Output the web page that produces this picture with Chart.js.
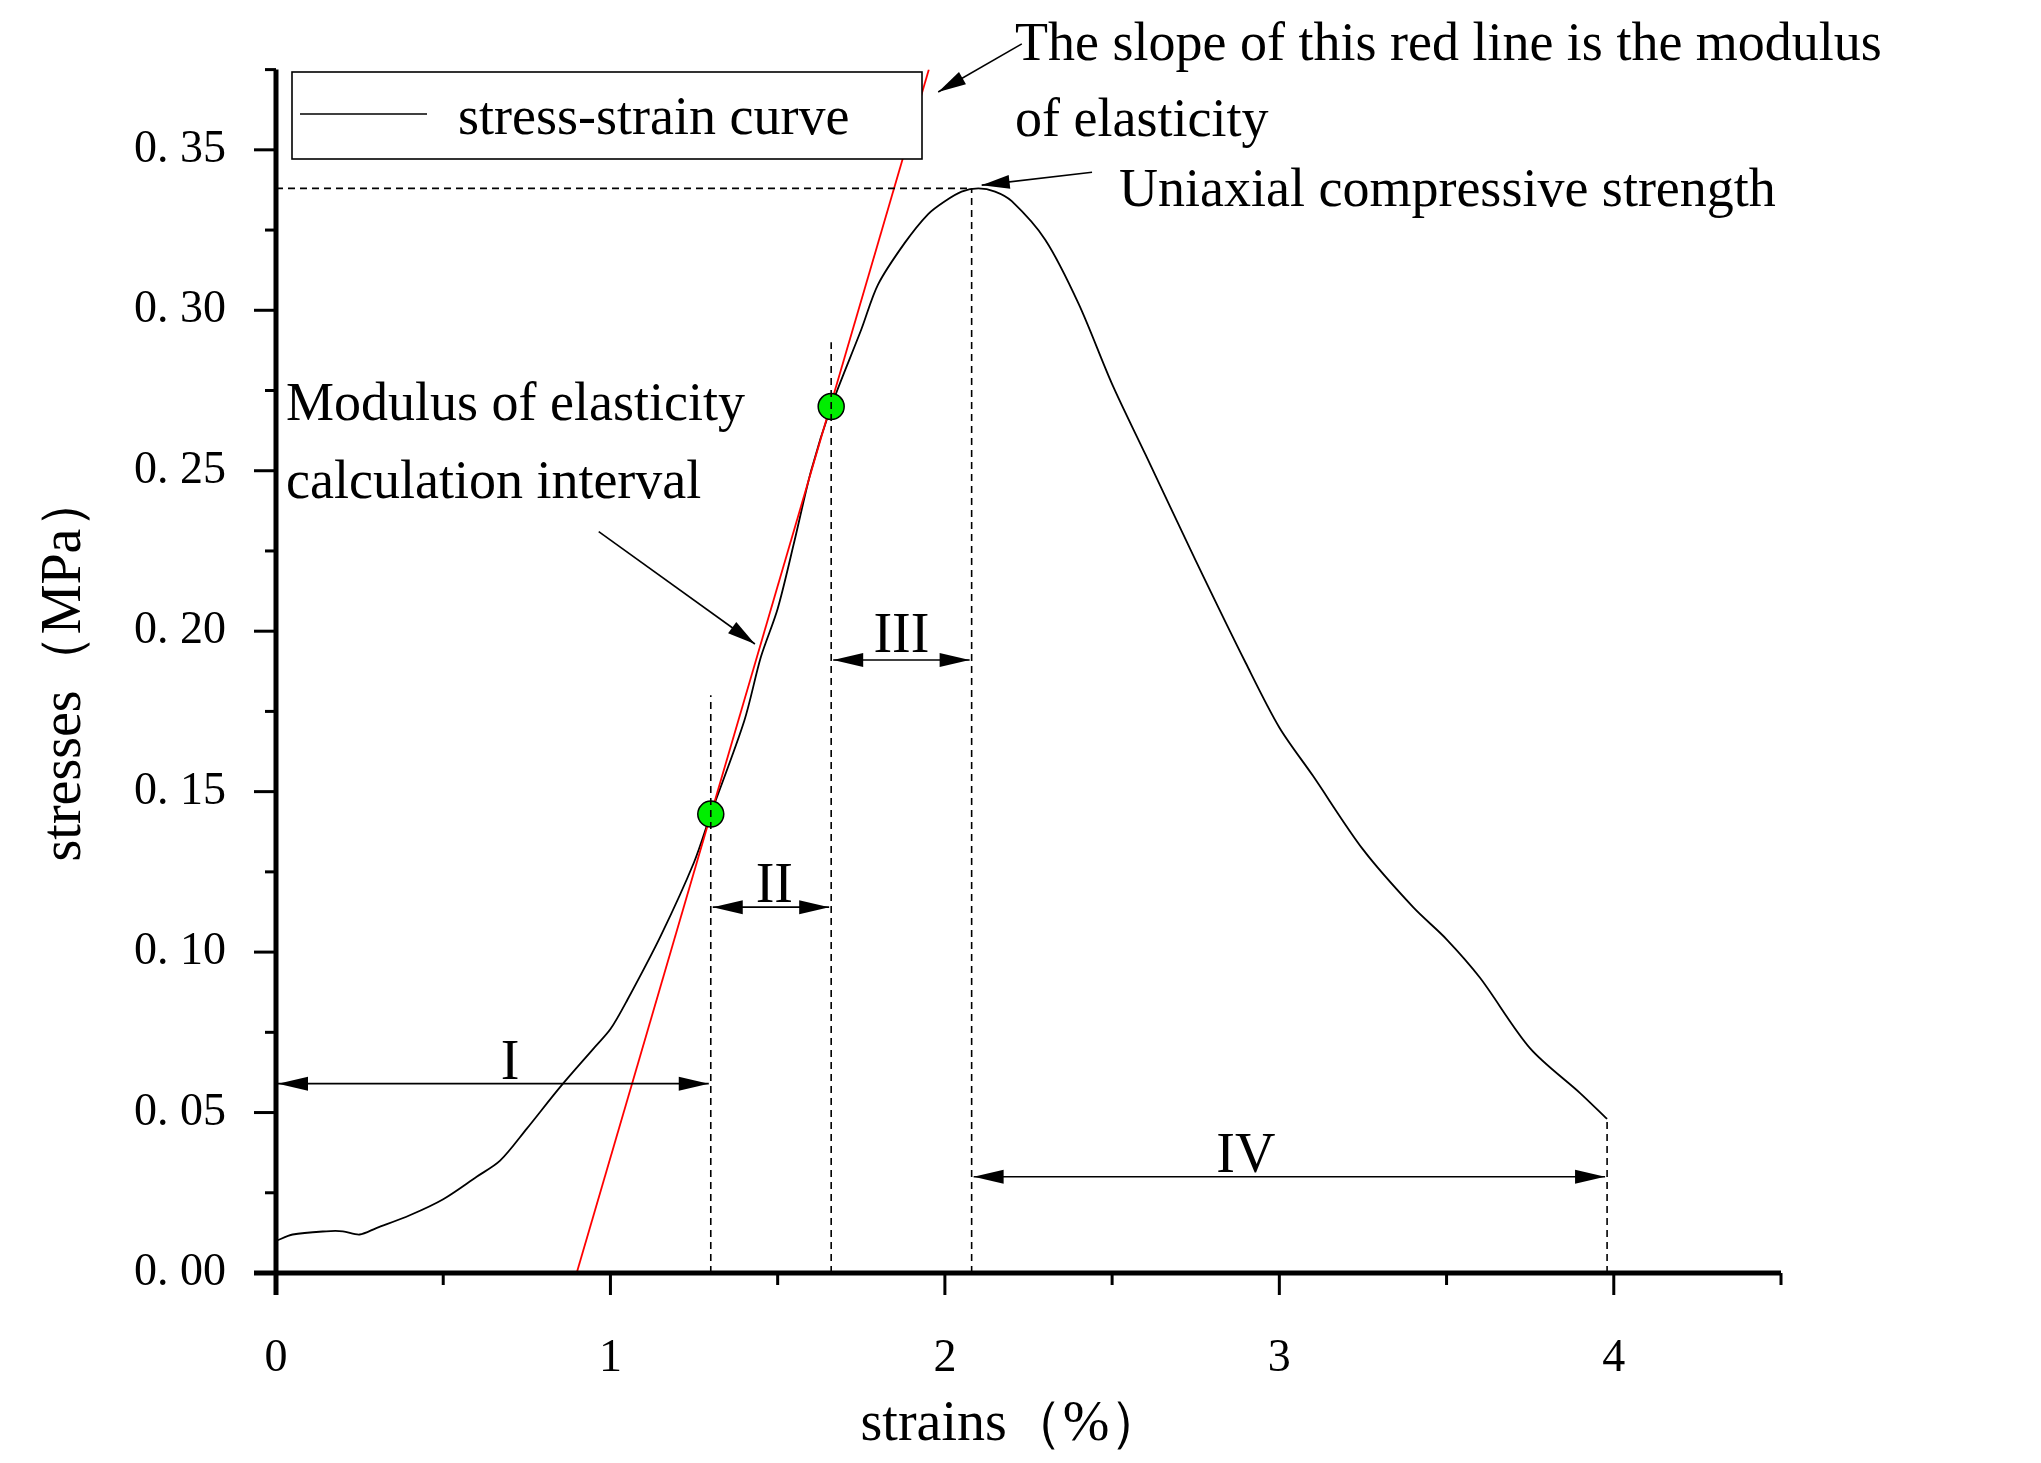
<!DOCTYPE html>
<html><head><meta charset="utf-8">
<script src="https://cdn.jsdelivr.net/npm/chart.js@4"></script>
<style>html,body{margin:0;background:#fff}#c{display:block}</style>
</head><body>
<canvas id="c" width="2041" height="1463"></canvas>
<script>
const strains  = [0,0.05,0.15,0.2,0.25,0.3,0.4,0.5,0.6,0.67,0.75,0.85,0.95,1.0,1.05,1.15,1.25,1.3,1.4,1.45,1.5,1.55,1.6,1.66,1.75,1.8,1.88,1.95,2.0,2.05,2.1,2.15,2.2,2.3,2.4,2.5,2.6,2.75,2.9,3.0,3.1,3.25,3.4,3.5,3.6,3.75,3.9,3.98];
const stresses = [0.010,0.012,0.013,0.013,0.012,0.014,0.018,0.023,0.030,0.035,0.045,0.058,0.070,0.076,0.085,0.105,0.128,0.143,0.172,0.192,0.207,0.228,0.250,0.270,0.294,0.308,0.321,0.330,0.334,0.337,0.338,0.337,0.334,0.322,0.302,0.277,0.255,0.222,0.190,0.170,0.155,0.132,0.114,0.104,0.092,0.070,0.056,0.048];
const redLineX = [0.899,1.952];
const redLineY = [0,0.375];
const greenX = [1.3,1.66];
const greenY = [0.143,0.270];
const xTickLabels = ['0','1','2','3','4'];
const F = 'Liberation Serif, serif';

const deco = {
  id:'deco',
  afterDraw(ch){
    const c=ch.ctx,x=ch.scales.x,y=ch.scales.y,a=ch.chartArea;
    const X=v=>x.getPixelForValue(v),Y=v=>y.getPixelForValue(v);
    c.save();
    c.strokeStyle='#000';c.lineWidth=3;
    for(let v=0;v<=4.5001;v+=0.5){const maj=Math.abs(v-Math.round(v))<1e-6;
      c.beginPath();c.moveTo(X(v),a.bottom);c.lineTo(X(v),a.bottom+(maj?22:12));c.stroke();}
    for(let i=0;i<=15;i++){const v=i*0.025,maj=i%2==0;
      c.beginPath();c.moveTo(a.left,Y(v));c.lineTo(a.left-(maj?22:11),Y(v));c.stroke();}
    c.lineWidth=5;
    c.beginPath();c.moveTo(a.left,a.top);c.lineTo(a.left,a.bottom+22);c.stroke();
    c.beginPath();c.moveTo(a.left-22,a.bottom);c.lineTo(a.right,a.bottom);c.stroke();
    c.lineWidth=1.6;c.setLineDash([7,5]);
    const vl=(xv,yv)=>{c.beginPath();c.moveTo(X(xv),a.bottom);c.lineTo(X(xv),Y(yv));c.stroke();};
    vl(1.3,0.18);vl(1.66,0.29);vl(2.08,0.338);vl(3.98,0.048);
    c.beginPath();c.moveTo(a.left,Y(0.338));c.lineTo(X(2.08),Y(0.338));c.stroke();
    c.setLineDash([]);
    const head=(x1,y1,x2,y2,L=26,W=7)=>{const an=Math.atan2(y2-y1,x2-x1);
      c.beginPath();c.moveTo(x2,y2);
      c.lineTo(x2-L*Math.cos(an)+W*Math.sin(an),y2-L*Math.sin(an)-W*Math.cos(an));
      c.lineTo(x2-L*Math.cos(an)-W*Math.sin(an),y2-L*Math.sin(an)+W*Math.cos(an));c.closePath();c.fill();};
    const dbl=(x1,x2,yv)=>{const p1=X(x1)+2,p2=X(x2)-2,py=Y(yv);c.lineWidth=1.6;
      c.beginPath();c.moveTo(p1,py);c.lineTo(p2,py);c.stroke();head(p2,py,p1,py,30,7);head(p1,py,p2,py,30,7);};
    const arr=(x1,y1,x2,y2)=>{c.lineWidth=1.6;c.beginPath();c.moveTo(X(x1),Y(y1));c.lineTo(X(x2),Y(y2));c.stroke();head(X(x1),Y(y1),X(x2),Y(y2),28,7);};
    c.fillStyle='#000';
    dbl(0,1.3,0.059);dbl(1.3,1.66,0.114);dbl(1.66,2.08,0.191);dbl(2.08,3.98,0.03);
    arr(0.965,0.231,1.432,0.196);
    arr(2.44,0.343,2.11,0.339);
    arr(2.23,0.383,1.98,0.368);
    c.font='56px '+F;c.textAlign='center';c.textBaseline='alphabetic';
    c.fillText('I',X(0.7),Y(0.063)+8);c.fillText('II',X(1.49),Y(0.118)+8);
    c.fillText('III',X(1.87),Y(0.196)+8);c.fillText('IV',X(2.9),Y(0.034)+8);
    c.textAlign='left';c.font='54px '+F;
    c.fillText('The slope of this red line is the modulus',1015,60);
    c.fillText('of elasticity',1015,136);
    c.fillText('Uniaxial compressive strength',1119,206);
    c.fillText('Modulus of elasticity',286,420);
    c.fillText('calculation interval',286,498);
    c.fillStyle='#fff';c.fillRect(292,72,630,87);
    c.strokeStyle='#000';c.lineWidth=1.6;c.strokeRect(292,72,630,87);
    c.beginPath();c.moveTo(300,114);c.lineTo(427,114);c.stroke();
    c.fillStyle='#000';c.font='54px '+F;c.fillText('stress-strain curve',458,134);
    c.font='56px '+F;c.textAlign='center';
    c.fillText('strains（%）',1013,1440);
    c.translate(62,667);c.rotate(-Math.PI/2);c.fillText('stresses（MPa）',0,18);
    c.restore();
  }
};

new Chart(document.getElementById('c'),{
  type:'scatter',
  data:{datasets:[
    {label:'stress-strain curve',data:strains.map((s,i)=>({x:s,y:stresses[i]})),showLine:true,borderColor:'#000',borderWidth:1.8,pointRadius:0,tension:0.3,order:2},
    {label:'red',data:redLineX.map((s,i)=>({x:s,y:redLineY[i]})),showLine:true,borderColor:'#ff0000',borderWidth:1.8,pointRadius:0,order:1},
    {label:'pts',data:greenX.map((s,i)=>({x:s,y:greenY[i]})),pointRadius:13,pointBackgroundColor:'#00ee00',pointBorderColor:'#000',pointBorderWidth:1.5,order:0}
  ]},
  options:{responsive:false,animation:false,devicePixelRatio:1,
    layout:{padding:{top:61,right:260,left:0,bottom:0}},
    plugins:{legend:{display:false},tooltip:{enabled:false}},
    scales:{
      x:{type:'linear',min:0,max:4.5,border:{display:false},grid:{display:false},
        afterFit(s){s.height=190;},
        ticks:{stepSize:1,padding:50,color:'#000',font:{family:F,size:46},callback:v=>xTickLabels[v]??''}},
      y:{type:'linear',min:0,max:0.375,border:{display:false},grid:{display:false},
        afterFit(s){s.width=276;},
        ticks:{stepSize:0.05,padding:42,color:'#000',font:{family:F,size:46},callback:v=>{const t=Math.round(v*100);return t%5===0&&v<0.37?'0. '+String(t).padStart(2,'0'):'';}}}
    }},
  plugins:[deco]
});
</script>
</body></html>
